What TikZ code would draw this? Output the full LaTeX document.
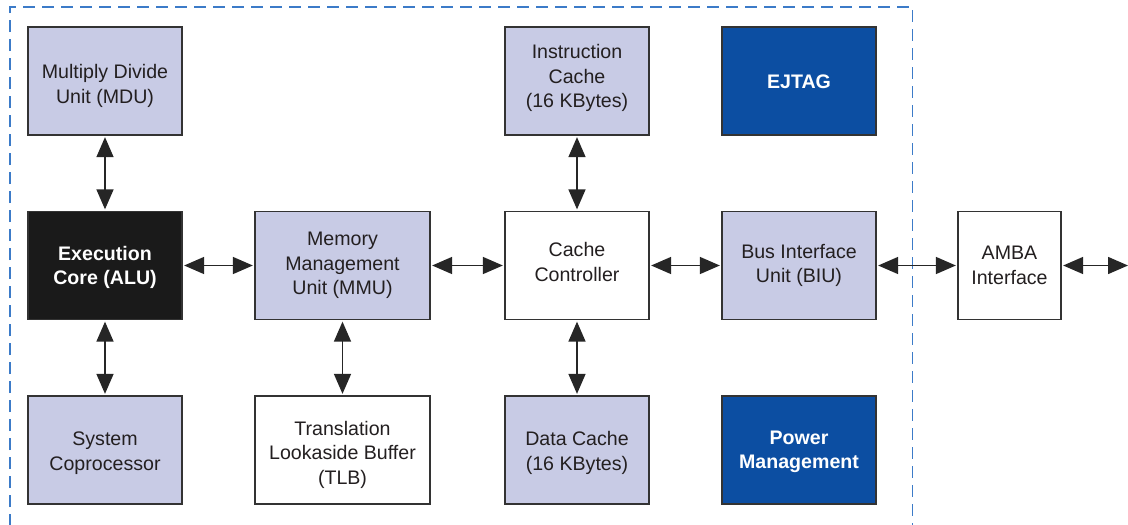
\documentclass[tikz,border=0pt]{standalone}
\usepackage{fontspec}
\setmainfont{Liberation Sans}
\usetikzlibrary{arrows.meta}
\definecolor{lav}{HTML}{C8CBE5}
\definecolor{darkblu}{HTML}{0C4EA2}
\definecolor{corebk}{HTML}{1A1A1A}
\definecolor{dashblu}{HTML}{3C7BC8}
\definecolor{txt}{HTML}{231F20}
\tikzset{
  blk/.style={draw=black!80, line width=1.3pt, minimum height=108pt, inner sep=0pt},
  wide/.style={minimum width=154pt},
  lavbox/.style={blk, fill=lav},
  whitebox/.style={blk, fill=white},
  bluebox/.style={blk, fill=darkblu},
  corebox/.style={blk, fill=corebk},
  say/.style 2 args={label={[align=center, inner sep=0pt, text=txt,
      font=\fontsize{19.6}{24.5}\selectfont, yshift=#1]center:{#2}}},
  sayw/.style 2 args={label={[align=center, inner sep=0pt, text=white,
      font=\fontsize{19.6}{24.5}\selectfont\bfseries, yshift=#1]center:{#2}}},
  link/.style={line width=1.5pt, draw=black!85, {Triangle[length=20pt,width=17pt]}-{Triangle[length=20pt,width=17pt]}, shorten <=1.5pt, shorten >=1.5pt},
  chipedge/.style={draw=dashblu, line width=1.5pt, dash pattern=on 12pt off 7pt}
}
\begin{document}
\begin{tikzpicture}[x=1pt,y=-1pt]
\useasboundingbox[fill=white] (0,0) rectangle (1128,525);
\draw[chipedge] (10,526) -- (10,7) -- (912.7,7) -- (912.7,526);

\node[lavbox, wide, say={-5pt}{Multiply Divide\\Unit (MDU)}] (mdu) at (105,81) {};
\node[corebox, wide, sayw={-2pt}{Execution\\Core (ALU)}] (exe) at (105,265.5) {};
\node[lavbox, wide, say={-3pt}{System\\Coprocessor}] (sys) at (105,450) {};

\node[lavbox, minimum width=175pt, say={0pt}{Memory\\Management\\Unit (MMU)}] (mmu) at (342.5,265.5) {};
\node[whitebox, minimum width=175pt, say={-4.5pt}{Translation\\Lookaside Buffer\\(TLB)}] (tlb) at (342.5,450) {};

\node[lavbox, minimum width=144pt, say={3pt}{Instruction\\Cache\\(16 KBytes)}] (ic) at (577,81) {};
\node[whitebox, minimum width=144pt, say={3.5pt}{Cache\\Controller}] (cc) at (577,265.5) {};
\node[lavbox, minimum width=144pt, say={-3pt}{Data Cache\\(16 KBytes)}] (dc) at (577,450) {};

\node[bluebox, wide, sayw={-1pt}{EJTAG}] (ejtag) at (799,81) {};
\node[lavbox, wide, say={0pt}{Bus Interface\\Unit (BIU)}] (biu) at (799,265.5) {};
\node[bluebox, wide, sayw={-2pt}{Power\\Management}] (pm) at (799,450) {};

\node[whitebox, minimum width=103pt, say={0pt}{AMBA\\Interface}] (amba) at (1009.5,265.5) {};
\coordinate (ext) at (1128,265.5);

\draw[link] (mdu) -- (exe);
\draw[link] (exe) -- (sys);
\draw[link] (exe) -- (mmu);
\draw[link] (mmu) -- (tlb);
\draw[link] (mmu) -- (cc);
\draw[link] (ic) -- (cc);
\draw[link] (cc) -- (dc);
\draw[link] (cc) -- (biu);
\draw[link] (biu) -- (amba);
\draw[link, shorten >=0pt] (amba) -- (ext);
\end{tikzpicture}
\end{document}
